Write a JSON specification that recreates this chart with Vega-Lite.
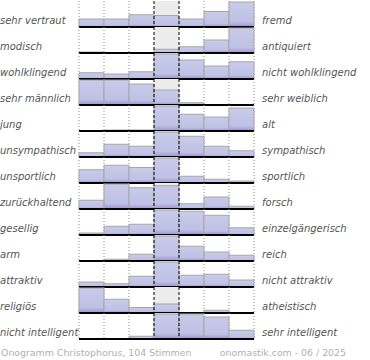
{
  "$schema": "https://vega.github.io/schema/vega-lite/v6.json",
  "padding": 0,
  "background": "white",
  "config": {"view": {"stroke": null}, "font": "DejaVu Sans"},
  "datasets": {
    "paare": [
      {"nr": 1, "links": "sehr vertraut", "rechts": "fremd"},
      {"nr": 2, "links": "modisch", "rechts": "antiquiert"},
      {"nr": 3, "links": "wohlklingend", "rechts": "nicht wohlklingend"},
      {"nr": 4, "links": "sehr männlich", "rechts": "sehr weiblich"},
      {"nr": 5, "links": "\u00a0jung", "rechts": "alt"},
      {"nr": 6, "links": "unsympathisch", "rechts": "sympathisch"},
      {"nr": 7, "links": "unsportlich", "rechts": "sportlich"},
      {"nr": 8, "links": "zurückhaltend", "rechts": "forsch"},
      {"nr": 9, "links": "gesellig", "rechts": "einzelgängerisch"},
      {"nr": 10, "links": "arm", "rechts": "reich"},
      {"nr": 11, "links": "attraktiv", "rechts": "nicht attraktiv"},
      {"nr": 12, "links": "religiös", "rechts": "atheistisch"},
      {"nr": 13, "links": "nicht intelligent", "rechts": "sehr intelligent"}
    ],
    "werte": [
      {"nr":1,"stufe":1,"wert":32},{"nr":1,"stufe":2,"wert":32},{"nr":1,"stufe":3,"wert":49},{"nr":1,"stufe":4,"wert":46},{"nr":1,"stufe":5,"wert":32},{"nr":1,"stufe":6,"wert":62},{"nr":1,"stufe":7,"wert":100},
      {"nr":2,"stufe":1,"wert":4},{"nr":2,"stufe":2,"wert":0},{"nr":2,"stufe":3,"wert":0},{"nr":2,"stufe":4,"wert":15},{"nr":2,"stufe":5,"wert":25},{"nr":2,"stufe":6,"wert":52},{"nr":2,"stufe":7,"wert":100},
      {"nr":3,"stufe":1,"wert":25},{"nr":3,"stufe":2,"wert":20},{"nr":3,"stufe":3,"wert":29},{"nr":3,"stufe":4,"wert":100},{"nr":3,"stufe":5,"wert":76},{"nr":3,"stufe":6,"wert":52},{"nr":3,"stufe":7,"wert":69},
      {"nr":4,"stufe":1,"wert":100},{"nr":4,"stufe":2,"wert":100},{"nr":4,"stufe":3,"wert":84},{"nr":4,"stufe":4,"wert":60},{"nr":4,"stufe":5,"wert":9},{"nr":4,"stufe":6,"wert":0},{"nr":4,"stufe":7,"wert":0},
      {"nr":5,"stufe":1,"wert":0},{"nr":5,"stufe":2,"wert":4},{"nr":5,"stufe":3,"wert":4},{"nr":5,"stufe":4,"wert":100},{"nr":5,"stufe":5,"wert":67},{"nr":5,"stufe":6,"wert":56},{"nr":5,"stufe":7,"wert":92},
      {"nr":6,"stufe":1,"wert":17},{"nr":6,"stufe":2,"wert":51},{"nr":6,"stufe":3,"wert":43},{"nr":6,"stufe":4,"wert":100},{"nr":6,"stufe":5,"wert":83},{"nr":6,"stufe":6,"wert":43},{"nr":6,"stufe":7,"wert":25},
      {"nr":7,"stufe":1,"wert":53},{"nr":7,"stufe":2,"wert":71},{"nr":7,"stufe":3,"wert":62},{"nr":7,"stufe":4,"wert":100},{"nr":7,"stufe":5,"wert":27},{"nr":7,"stufe":6,"wert":15},{"nr":7,"stufe":7,"wert":8},
      {"nr":8,"stufe":1,"wert":35},{"nr":8,"stufe":2,"wert":100},{"nr":8,"stufe":3,"wert":85},{"nr":8,"stufe":4,"wert":93},{"nr":8,"stufe":5,"wert":21},{"nr":8,"stufe":6,"wert":48},{"nr":8,"stufe":7,"wert":11},
      {"nr":9,"stufe":1,"wert":8},{"nr":9,"stufe":2,"wert":35},{"nr":9,"stufe":3,"wert":43},{"nr":9,"stufe":4,"wert":100},{"nr":9,"stufe":5,"wert":95},{"nr":9,"stufe":6,"wert":79},{"nr":9,"stufe":7,"wert":29},
      {"nr":10,"stufe":1,"wert":0},{"nr":10,"stufe":2,"wert":7},{"nr":10,"stufe":3,"wert":27},{"nr":10,"stufe":4,"wert":100},{"nr":10,"stufe":5,"wert":59},{"nr":10,"stufe":6,"wert":36},{"nr":10,"stufe":7,"wert":23},
      {"nr":11,"stufe":1,"wert":20},{"nr":11,"stufe":2,"wert":13},{"nr":11,"stufe":3,"wert":43},{"nr":11,"stufe":4,"wert":100},{"nr":11,"stufe":5,"wert":47},{"nr":11,"stufe":6,"wert":51},{"nr":11,"stufe":7,"wert":28},
      {"nr":12,"stufe":1,"wert":100},{"nr":12,"stufe":2,"wert":55},{"nr":12,"stufe":3,"wert":22},{"nr":12,"stufe":4,"wert":36},{"nr":12,"stufe":5,"wert":0},{"nr":12,"stufe":6,"wert":11},{"nr":12,"stufe":7,"wert":0},
      {"nr":13,"stufe":1,"wert":0},{"nr":13,"stufe":2,"wert":0},{"nr":13,"stufe":3,"wert":11},{"nr":13,"stufe":4,"wert":100},{"nr":13,"stufe":5,"wert":100},{"nr":13,"stufe":6,"wert":88},{"nr":13,"stufe":7,"wert":35}
    ],
    "fuss": [
      {"text": "Onogramm Christophorus, 104 Stimmen", "pos": 0},
      {"text": "onomastik.com - 06 / 2025", "pos": 1}
    ]
  },
  "spacing": 8,
  "vconcat": [
    {
      "data": {"name": "werte"},
      "transform": [
        {"lookup": "nr", "from": {"data": {"name": "paare"}, "key": "nr", "fields": ["links", "rechts"]}}
      ],
      "facet": {"row": {"field": "nr", "type": "ordinal", "header": {"labels": false, "title": null}}},
      "spacing": 0,
      "bounds": "flush",
      "spec": {
        "width": 175,
        "height": 26,
        "layer": [
          {
            "transform": [{"filter": "datum.stufe == 4"}],
            "mark": {"type": "bar", "color": "#ececec"},
            "encoding": {
              "x": {"field": "stufe", "type": "ordinal", "scale": {"paddingInner": 0, "paddingOuter": 0}, "axis": null},
              "y": {"datum": 104, "type": "quantitative", "scale": {"domain": [0, 104], "nice": false}, "axis": null},
              "y2": {"datum": 0}
            }
          },
          {
            "transform": [{"filter": "datum.stufe != 4 && datum.stufe != 5"}],
            "mark": {"type": "rule", "color": "#8a8a8a", "strokeDash": [1, 2], "strokeWidth": 1},
            "encoding": {
              "x": {"field": "stufe", "type": "ordinal", "bandPosition": 0, "axis": null}
            }
          },
          {
            "transform": [{"filter": "datum.stufe == 7"}],
            "mark": {"type": "rule", "color": "#8a8a8a", "strokeDash": [1, 2], "strokeWidth": 1},
            "encoding": {
              "x": {"field": "stufe", "type": "ordinal", "bandPosition": 1, "axis": null}
            }
          },
          {
            "mark": {
              "type": "bar",
              "stroke": "#a6a6a6",
              "strokeWidth": 1,
              "color": {
                "gradient": "linear", "x1": 0, "y1": 0, "x2": 0, "y2": 1,
                "stops": [
                  {"offset": 0, "color": "#c9cbea"},
                  {"offset": 0.78, "color": "#bfc1e5"},
                  {"offset": 1, "color": "#9c90cc"}
                ]
              }
            },
            "encoding": {
              "x": {"field": "stufe", "type": "ordinal", "axis": null},
              "y": {"field": "wert", "type": "quantitative", "scale": {"domain": [0, 104], "nice": false}, "axis": null}
            }
          },
          {
            "transform": [{"filter": "datum.stufe == 4 || datum.stufe == 5"}],
            "mark": {"type": "rule", "color": "#000000", "strokeDash": [3, 2], "strokeWidth": 1},
            "encoding": {
              "x": {"field": "stufe", "type": "ordinal", "bandPosition": 0, "axis": null}
            }
          },
          {
            "transform": [{"filter": "datum.stufe == 1"}],
            "mark": {"type": "rule", "color": "#000000", "strokeWidth": 2},
            "encoding": {
              "y": {"datum": 0, "type": "quantitative"}
            }
          },
          {
            "transform": [{"filter": "datum.stufe == 1"}],
            "mark": {"type": "text", "align": "left", "baseline": "alphabetic", "dx": -79, "dy": -3, "fontSize": 10, "fontStyle": "italic", "color": "#555555"},
            "encoding": {
              "x": {"field": "stufe", "type": "ordinal", "bandPosition": 0, "axis": null},
              "y": {"datum": 0, "type": "quantitative"},
              "text": {"field": "links"}
            }
          },
          {
            "transform": [{"filter": "datum.stufe == 7"}],
            "mark": {"type": "text", "align": "left", "baseline": "alphabetic", "dx": 8, "dy": -3, "fontSize": 10, "fontStyle": "italic", "color": "#555555"},
            "encoding": {
              "x": {"field": "stufe", "type": "ordinal", "bandPosition": 1, "axis": null},
              "y": {"datum": 0, "type": "quantitative"},
              "text": {"field": "rechts"}
            }
          }
        ]
      }
    },
    {
      "data": {"name": "fuss"},
      "width": 267,
      "height": 10,
      "layer": [
        {
          "transform": [{"filter": "datum.pos == 0"}],
          "mark": {"type": "text", "align": "left", "baseline": "middle", "dx": -78, "fontSize": 9.4, "color": "#b0b0b0"},
          "encoding": {
            "x": {"field": "pos", "type": "quantitative", "scale": {"domain": [0, 1]}, "axis": null},
            "text": {"field": "text"}
          }
        },
        {
          "transform": [{"filter": "datum.pos == 1"}],
          "mark": {"type": "text", "align": "right", "baseline": "middle", "fontSize": 9.4, "color": "#b0b0b0"},
          "encoding": {
            "x": {"field": "pos", "type": "quantitative", "scale": {"domain": [0, 1]}, "axis": null},
            "text": {"field": "text"}
          }
        }
      ]
    }
  ]
}
